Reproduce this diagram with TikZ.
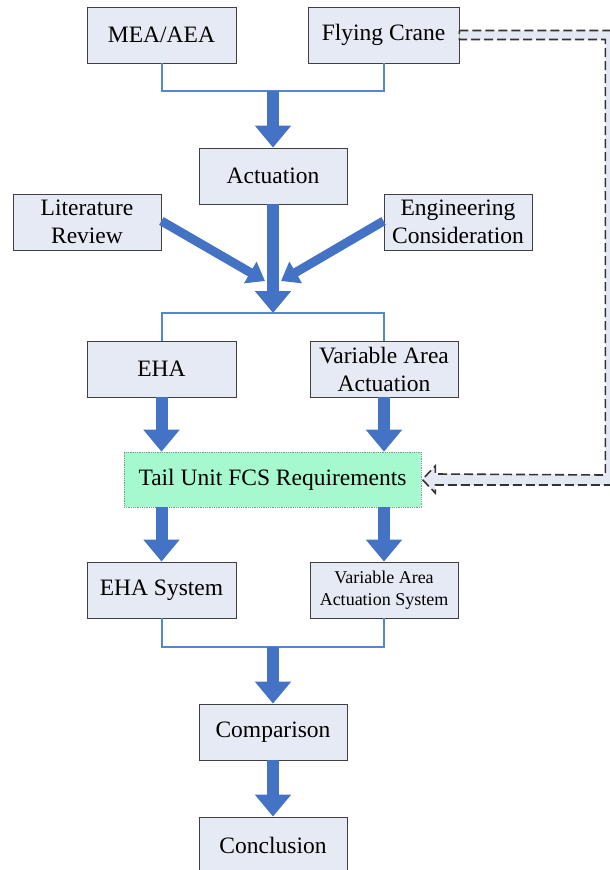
\documentclass[tikz,border=0pt]{standalone}
\usepackage{fontspec}
\setmainfont{Liberation Serif}
\usetikzlibrary{arrows.meta,calc}
\definecolor{flowblue}{HTML}{4472C4}
\definecolor{linkblue}{HTML}{5586D2}
\definecolor{boxfill}{HTML}{E6EAF4}
\definecolor{reqfill}{HTML}{A6F8CF}
\definecolor{reqline}{HTML}{7A9C8A}
\definecolor{bandfill}{HTML}{E4E8F2}
\definecolor{dashgray}{HTML}{333333}
\tikzset{
  stagebox/.style={draw=black!75, line width=0.8pt, fill=boxfill, inner sep=0pt,
    minimum width=148pt, minimum height=56pt, align=center,
    font=\fontsize{23.5}{28}\selectfont},
  reqbox/.style={stagebox, fill=reqfill, draw=reqline, densely dotted, line width=0.6pt,
    minimum width=297pt, minimum height=55pt},
  smalltext/.style={font=\fontsize{18}{22}\selectfont},
  fatarrow/.style={draw=flowblue, line width=12pt,
    -{Triangle[width=35pt,length=22pt]}},
  slantarrow/.style={draw=flowblue, line width=9pt,
    -{Triangle[width=24pt,length=17pt]}},
  bracketline/.style={draw=linkblue, line width=2pt},
  feedback/.style={draw=dashgray, fill=bandfill, line width=1.6pt,
    dash pattern=on 9pt off 4pt, line join=miter}
}
\begin{document}
\begin{tikzpicture}[x=1pt,y=-1pt]
\useasboundingbox (0,0) rectangle (610,870);
\clip (0,0) rectangle (610,870);

% stages
\node[stagebox, minimum width=149pt] (mea)   at (161.5,35)  {MEA/AEA};
\node[stagebox, minimum width=151pt] (crane) at (383.5,35)  {Flying Crane};
\node[stagebox] (act)   at (273,176)   {Actuation};
\node[stagebox] (lit)   at (87,222)    {Literature\\Review};
\node[stagebox] (eng)   at (458,222)   {Engineering\\Consideration};
\node[stagebox, minimum width=149pt] (eha)   at (161.5,369) {EHA};
\node[stagebox] (vaa)   at (384,369)   {Variable Area\\Actuation};
\node[reqbox]   (req)   at (272.5,479.5) {Tail Unit FCS Requirements};
\node[stagebox, minimum width=149pt] (ehas)  at (161.5,590) {EHA System};
\node[stagebox, smalltext] (vaas) at (384,590) {Variable Area\\Actuation System};
\node[stagebox] (comp)  at (273,732)   {Comparison};
\node[stagebox] (conc)  at (273,845)   {Conclusion};

% junction points
\coordinate (j1) at (273,91);
\coordinate (j2) at (273,313);
\coordinate (j3) at (273,647);
\coordinate (lt) at (265,281);
\coordinate (rt) at (281,281);

% top bracket and flow into Actuation
\draw[bracketline] (mea.south) |- (j1) -| (crane.south);
\draw[fatarrow] (j1) -- (act.north);

% Actuation and side inputs
\draw[fatarrow] (act.south) -- (j2);
\draw[slantarrow] ([yshift=1pt]lit.east) -- (lt);
\draw[slantarrow] ([yshift=1pt]eng.west) -- (rt);

% split towards EHA / Variable Area Actuation
\draw[bracketline] (eha.north) |- (j2) -| (vaa.north);

% into the requirements
\draw[fatarrow] (eha.south) -- (eha.south |- req.north);
\draw[fatarrow] (vaa.south) -- (vaa.south |- req.north);

% out of the requirements
\draw[fatarrow] (ehas.north |- req.south) -- (ehas.north);
\draw[fatarrow] (vaas.north |- req.south) -- (vaas.north);

% merge towards comparison
\draw[bracketline] (ehas.south) |- (j3) -| (vaas.south);
\draw[fatarrow] (j3) -- (comp.north);
\draw[fatarrow] (comp.south) -- (conc.north);

% dashed hollow feedback arrow from Flying Crane to the requirements
\draw[feedback]
  ($(crane.east)+(0,-4.5)$) -- ++(155,0) coordinate (fo)
  -- (fo |- {$(req.east)+(0,5.5)$}) coordinate (fb)
  -- ($(req.east)+(14,5.5)$) -- ++(0,8)
  -- ($(req.east)+(1,0)$)
  -- ($(req.east)+(14,-13.5)$) -- ++(0,8)
  -- ($(fb)+(-9,-10)$)
  -- ($(crane.east)+(146,4.5)$)
  -- ($(crane.east)+(0,4.5)$) -- cycle;
\end{tikzpicture}
\end{document}
